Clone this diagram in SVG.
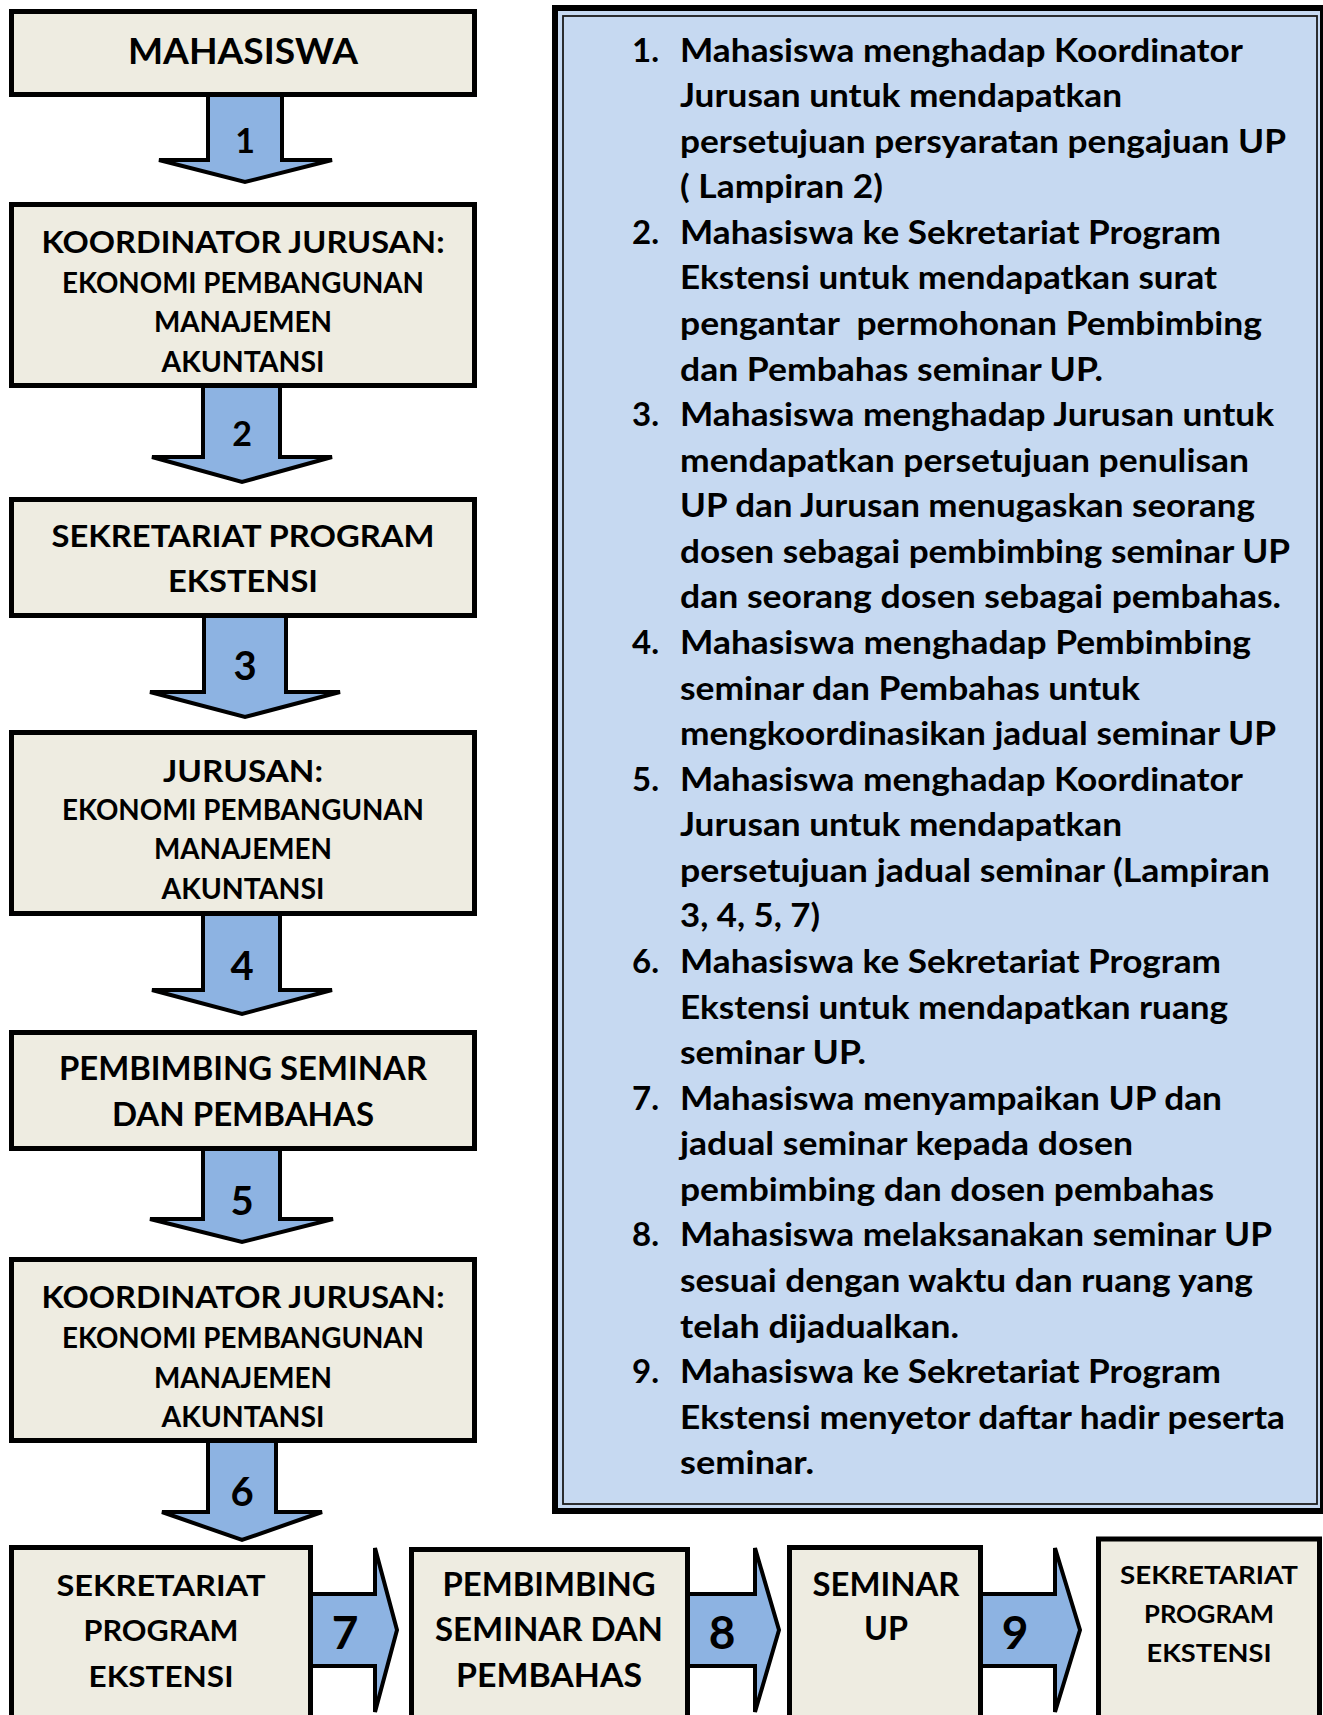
<svg xmlns="http://www.w3.org/2000/svg" width="1323" height="1715" viewBox="0 0 1323 1715">
<style>
.box{fill:#EEECE1;stroke:#000;stroke-width:5}
.arr{fill:#8DB3E2;stroke:#000;stroke-width:4;stroke-linejoin:miter}
.t{font-family:Lato,"Open Sans","Liberation Sans",sans-serif;font-weight:bold;fill:#000}
.c{text-anchor:middle}
.num{font-family:Lato,"Open Sans","Liberation Sans",sans-serif;font-weight:bold;fill:#000;text-anchor:middle}
.p{font-family:Lato,"Open Sans","Liberation Sans",sans-serif;font-weight:bold;fill:#000;font-size:33px}
</style>
<rect width="1323" height="1715" fill="#fff"/>
<g id="connectors">
  <path class="arr" d="M208,90 L282,90 L282,160 L332,160 L245,182 L159,160 L208,160 Z"/>
  <path class="arr" d="M203,380 L280,380 L280,457 L332,457 L242,482 L152,457 L203,457 Z"/>
  <path class="arr" d="M204,610 L286,610 L286,692 L340,692 L245,717 L150,692 L204,692 Z"/>
  <path class="arr" d="M203,908 L280,908 L280,990 L332,990 L242,1014 L152,990 L203,990 Z"/>
  <path class="arr" d="M203,1143 L280,1143 L280,1219 L333,1219 L242,1242 L150,1219 L203,1219 Z"/>
  <path class="arr" d="M208,1435 L276,1435 L276,1512 L322,1512 L242,1540 L162,1512 L208,1512 Z"/>
  <path class="arr" d="M305,1594 L375,1594 L375,1548 L397,1630 L375,1712 L375,1666 L305,1666 Z"/>
  <path class="arr" d="M682,1594 L755,1594 L755,1548 L779,1630 L755,1712 L755,1666 L682,1666 Z"/>
  <path class="arr" d="M975,1594 L1055,1594 L1055,1548 L1080,1630 L1055,1712 L1055,1666 L975,1666 Z"/>
  <text class="num" x="245" y="153" font-size="34">1</text>
  <text class="num" x="242" y="446" font-size="34">2</text>
  <text class="num" x="245" y="680" font-size="40">3</text>
  <text class="num" x="242" y="980" font-size="40">4</text>
  <text class="num" x="242" y="1215" font-size="40">5</text>
  <text class="num" x="242" y="1506" font-size="40">6</text>
  <text class="num" x="345" y="1649" font-size="46">7</text>
  <text class="num" x="722" y="1649" font-size="46">8</text>
  <text class="num" x="1015" y="1649" font-size="46">9</text>
</g>
<g id="n-mahasiswa">
  <rect class="box" x="11.5" y="11.5" width="463" height="83"/>
  <text class="t c" x="243" y="64" font-size="36" textLength="230" lengthAdjust="spacingAndGlyphs">MAHASISWA</text>
</g>
<g id="n-koordinator1">
  <rect class="box" x="11.5" y="204.5" width="463" height="181"/>
  <text class="t c" x="243" y="253" font-size="31" textLength="403" lengthAdjust="spacingAndGlyphs">KOORDINATOR JURUSAN:</text>
  <text class="t c" x="243" y="293" font-size="27.7" textLength="362" lengthAdjust="spacingAndGlyphs">EKONOMI PEMBANGUNAN</text>
  <text class="t c" x="243" y="332" font-size="27.7" textLength="178" lengthAdjust="spacingAndGlyphs">MANAJEMEN</text>
  <text class="t c" x="243" y="372" font-size="27.7" textLength="163" lengthAdjust="spacingAndGlyphs">AKUNTANSI</text>
</g>
<g id="n-sekretariat1">
  <rect class="box" x="11.5" y="499.5" width="463" height="116"/>
  <text class="t c" x="243" y="547" font-size="30.4" textLength="383" lengthAdjust="spacingAndGlyphs">SEKRETARIAT PROGRAM</text>
  <text class="t c" x="243" y="592" font-size="30.4" textLength="150" lengthAdjust="spacingAndGlyphs">EKSTENSI</text>
</g>
<g id="n-jurusan">
  <rect class="box" x="11.5" y="732.5" width="463" height="181"/>
  <text class="t c" x="243" y="782" font-size="31" textLength="160" lengthAdjust="spacingAndGlyphs">JURUSAN:</text>
  <text class="t c" x="243" y="820" font-size="27.7" textLength="362" lengthAdjust="spacingAndGlyphs">EKONOMI PEMBANGUNAN</text>
  <text class="t c" x="243" y="859" font-size="27.7" textLength="178" lengthAdjust="spacingAndGlyphs">MANAJEMEN</text>
  <text class="t c" x="243" y="899" font-size="27.7" textLength="163" lengthAdjust="spacingAndGlyphs">AKUNTANSI</text>
</g>
<g id="n-pembimbing1">
  <rect class="box" x="11.5" y="1032.5" width="463" height="116"/>
  <text class="t c" x="243" y="1080" font-size="32.3" textLength="368" lengthAdjust="spacingAndGlyphs">PEMBIMBING SEMINAR</text>
  <text class="t c" x="243" y="1126" font-size="32.3" textLength="262" lengthAdjust="spacingAndGlyphs">DAN PEMBAHAS</text>
</g>
<g id="n-koordinator2">
  <rect class="box" x="11.5" y="1259.5" width="463" height="181"/>
  <text class="t c" x="243" y="1308" font-size="31" textLength="403" lengthAdjust="spacingAndGlyphs">KOORDINATOR JURUSAN:</text>
  <text class="t c" x="243" y="1348" font-size="27.7" textLength="362" lengthAdjust="spacingAndGlyphs">EKONOMI PEMBANGUNAN</text>
  <text class="t c" x="243" y="1388" font-size="27.7" textLength="178" lengthAdjust="spacingAndGlyphs">MANAJEMEN</text>
  <text class="t c" x="243" y="1427" font-size="27.7" textLength="163" lengthAdjust="spacingAndGlyphs">AKUNTANSI</text>
</g>
<g id="n-sekretariat2">
  <rect class="box" x="11.5" y="1547.5" width="299" height="200"/>
  <text class="t c" x="161" y="1596" font-size="29.4" textLength="209" lengthAdjust="spacingAndGlyphs">SEKRETARIAT</text>
  <text class="t c" x="161" y="1641" font-size="29.4" textLength="155" lengthAdjust="spacingAndGlyphs">PROGRAM</text>
  <text class="t c" x="161" y="1687" font-size="29.4" textLength="145" lengthAdjust="spacingAndGlyphs">EKSTENSI</text>
</g>
<g id="n-pembimbing2">
  <rect class="box" x="411.5" y="1549.5" width="276" height="200"/>
  <text class="t c" x="549" y="1596" font-size="32.8" textLength="213" lengthAdjust="spacingAndGlyphs">PEMBIMBING</text>
  <text class="t c" x="549" y="1641" font-size="32.8" textLength="228" lengthAdjust="spacingAndGlyphs">SEMINAR DAN</text>
  <text class="t c" x="549" y="1687" font-size="32.8" textLength="186" lengthAdjust="spacingAndGlyphs">PEMBAHAS</text>
</g>
<g id="n-seminar">
  <rect class="box" x="789.5" y="1547.5" width="191" height="200"/>
  <text class="t c" x="886" y="1596" font-size="31.8" textLength="147" lengthAdjust="spacingAndGlyphs">SEMINAR</text>
  <text class="t c" x="886" y="1640" font-size="31.8" textLength="44" lengthAdjust="spacingAndGlyphs">UP</text>
</g>
<g id="n-sekretariat3">
  <rect class="box" x="1098.5" y="1539" width="221" height="200"/>
  <text class="t c" x="1209" y="1584" font-size="25" textLength="178" lengthAdjust="spacingAndGlyphs">SEKRETARIAT</text>
  <text class="t c" x="1209" y="1623" font-size="25" textLength="130" lengthAdjust="spacingAndGlyphs">PROGRAM</text>
  <text class="t c" x="1209" y="1662" font-size="25" textLength="125" lengthAdjust="spacingAndGlyphs">EKSTENSI</text>
</g>
<g id="n-keterangan">
  <rect x="555" y="8" width="768" height="1503" fill="#C6D9F1" stroke="#000" stroke-width="6"/>
  <rect x="563" y="16" width="754" height="1488" fill="none" stroke="#1a1a1a" stroke-width="1.8"/>
  <g class="p">
    <text x="632" y="61.5">1.</text>
    <text x="680" y="61.5" textLength="563" lengthAdjust="spacingAndGlyphs">Mahasiswa menghadap Koordinator</text>
    <text x="680" y="107.1" textLength="442" lengthAdjust="spacingAndGlyphs">Jurusan untuk mendapatkan</text>
    <text x="680" y="152.6" textLength="606" lengthAdjust="spacingAndGlyphs">persetujuan persyaratan pengajuan UP</text>
    <text x="680" y="198.2" textLength="203" lengthAdjust="spacingAndGlyphs">( Lampiran 2)</text>
    <text x="632" y="243.8">2.</text>
    <text x="680" y="243.8" textLength="541" lengthAdjust="spacingAndGlyphs">Mahasiswa ke Sekretariat Program</text>
    <text x="680" y="289.4" textLength="537" lengthAdjust="spacingAndGlyphs">Ekstensi untuk mendapatkan surat</text>
    <text x="680" y="334.9" textLength="582" lengthAdjust="spacingAndGlyphs" xml:space="preserve">pengantar  permohonan Pembimbing</text>
    <text x="680" y="380.5" textLength="423" lengthAdjust="spacingAndGlyphs">dan Pembahas seminar UP.</text>
    <text x="632" y="426.1">3.</text>
    <text x="680" y="426.1" textLength="594" lengthAdjust="spacingAndGlyphs">Mahasiswa menghadap Jurusan untuk</text>
    <text x="680" y="471.6" textLength="569" lengthAdjust="spacingAndGlyphs">mendapatkan persetujuan penulisan</text>
    <text x="680" y="517.2" textLength="575" lengthAdjust="spacingAndGlyphs">UP dan Jurusan menugaskan seorang</text>
    <text x="680" y="562.8" textLength="610" lengthAdjust="spacingAndGlyphs">dosen sebagai pembimbing seminar UP</text>
    <text x="680" y="608.4" textLength="601" lengthAdjust="spacingAndGlyphs">dan seorang dosen sebagai pembahas.</text>
    <text x="632" y="653.9">4.</text>
    <text x="680" y="653.9" textLength="571" lengthAdjust="spacingAndGlyphs">Mahasiswa menghadap Pembimbing</text>
    <text x="680" y="699.5" textLength="460" lengthAdjust="spacingAndGlyphs">seminar dan Pembahas untuk</text>
    <text x="680" y="745.1" textLength="596" lengthAdjust="spacingAndGlyphs">mengkoordinasikan jadual seminar UP</text>
    <text x="632" y="790.6">5.</text>
    <text x="680" y="790.6" textLength="563" lengthAdjust="spacingAndGlyphs">Mahasiswa menghadap Koordinator</text>
    <text x="680" y="836.2" textLength="442" lengthAdjust="spacingAndGlyphs">Jurusan untuk mendapatkan</text>
    <text x="680" y="881.8" textLength="590" lengthAdjust="spacingAndGlyphs">persetujuan jadual seminar (Lampiran</text>
    <text x="680" y="927.4" textLength="140" lengthAdjust="spacingAndGlyphs">3, 4, 5, 7)</text>
    <text x="632" y="972.9">6.</text>
    <text x="680" y="972.9" textLength="541" lengthAdjust="spacingAndGlyphs">Mahasiswa ke Sekretariat Program</text>
    <text x="680" y="1018.5" textLength="548" lengthAdjust="spacingAndGlyphs">Ekstensi untuk mendapatkan ruang</text>
    <text x="680" y="1064.1" textLength="186" lengthAdjust="spacingAndGlyphs">seminar UP.</text>
    <text x="632" y="1109.6">7.</text>
    <text x="680" y="1109.6" textLength="542" lengthAdjust="spacingAndGlyphs">Mahasiswa menyampaikan UP dan</text>
    <text x="680" y="1155.2" textLength="453" lengthAdjust="spacingAndGlyphs">jadual seminar kepada dosen</text>
    <text x="680" y="1200.8" textLength="534" lengthAdjust="spacingAndGlyphs">pembimbing dan dosen pembahas</text>
    <text x="632" y="1246.4">8.</text>
    <text x="680" y="1246.4" textLength="592" lengthAdjust="spacingAndGlyphs">Mahasiswa melaksanakan seminar UP</text>
    <text x="680" y="1291.9" textLength="573" lengthAdjust="spacingAndGlyphs">sesuai dengan waktu dan ruang yang</text>
    <text x="680" y="1337.5" textLength="279" lengthAdjust="spacingAndGlyphs">telah dijadualkan.</text>
    <text x="632" y="1383.1">9.</text>
    <text x="680" y="1383.1" textLength="541" lengthAdjust="spacingAndGlyphs">Mahasiswa ke Sekretariat Program</text>
    <text x="680" y="1428.6" textLength="605" lengthAdjust="spacingAndGlyphs">Ekstensi menyetor daftar hadir peserta</text>
    <text x="680" y="1474.2" textLength="134" lengthAdjust="spacingAndGlyphs">seminar.</text>
  </g>
</g>
</svg>
